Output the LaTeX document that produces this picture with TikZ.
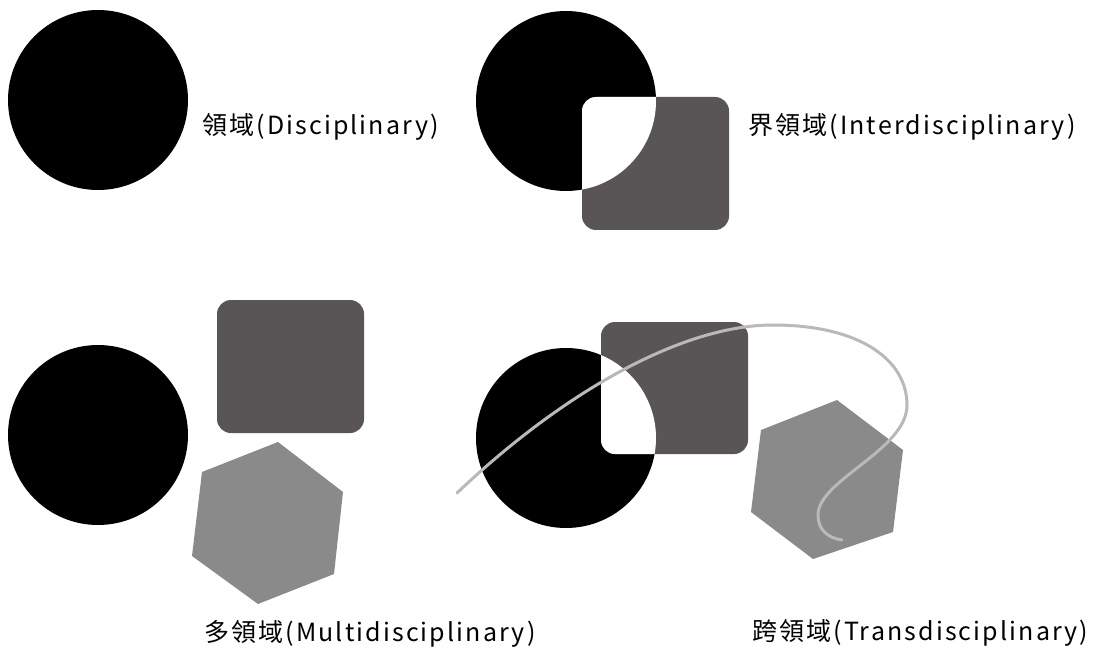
\documentclass[tikz,border=0pt]{standalone}
\usepackage{fontspec}
\setmainfont{Noto Sans CJK TC}[LetterSpace=8.5]
\usetikzlibrary{positioning}
\begin{document}
\begin{tikzpicture}[x=1pt,y=-1pt]
    \tikzstyle{field}=[fill=black]
    \tikzstyle{boxfield}=[fill={rgb,255:red,89;green,85;blue,86}, rounded corners=14pt]
    \tikzstyle{hexfield}=[fill={rgb,255:red,138;green,138;blue,138}]
    \tikzstyle{thread}=[draw={rgb,255:red,185;green,185;blue,185}, line width=3pt, line cap=round]
    \tikzstyle{caption}=[anchor=west, inner sep=0pt, font=\fontsize{25pt}{30pt}\selectfont]

    \useasboundingbox (0,0) rectangle (1099,652);

    % disciplinary
    \fill[field] (98,100) circle[radius=90pt];
    \node[caption] (L-1) at (202,127) {領域(Disciplinary)};

    % interdisciplinary
    \fill[field] (566,101) circle[radius=90pt];
    \fill[boxfield] (582,97) rectangle (729,230);
    \begin{scope}
      \clip (566,101) circle[radius=90pt];
      \fill[white, rounded corners=14pt] (582,97) rectangle (729,230);
    \end{scope}
    \node[caption] (L-2) at (748,127) {界領域(Interdisciplinary)};

    % multidisciplinary
    \fill[field] (98,435) circle[radius=90pt];
    \fill[boxfield] (217,300) rectangle (364,433);
    \fill[hexfield] (278,442) -- (343,492) -- (334,574) -- (258,604) -- (192,556) -- (202,472) -- cycle;
    \node[caption] (L-3) at (204,634) {多領域(Multidisciplinary)};

    % transdisciplinary
    \fill[field] (566,438) circle[radius=90pt];
    \fill[boxfield] (601,322) rectangle (748,454);
    \begin{scope}
      \clip (566,438) circle[radius=90pt];
      \fill[white, rounded corners=14pt] (601,322) rectangle (748,454);
    \end{scope}
    \fill[hexfield] (837,400) -- (903,450) -- (893,532) -- (813,559) -- (751,512) -- (761,430) -- cycle;
    \draw[thread] (457,493) .. controls (560,395) and (680,325) .. (773,325)
      .. controls (860,325) and (907,360) .. (907,405)
      .. controls (907,450) and (818,480) .. (818,515)
      .. controls (818,530) and (828,538) .. (842,540);
    \node[caption] (L-4) at (752,633) {跨領域(Transdisciplinary)};
  \end{tikzpicture}
\end{document}
